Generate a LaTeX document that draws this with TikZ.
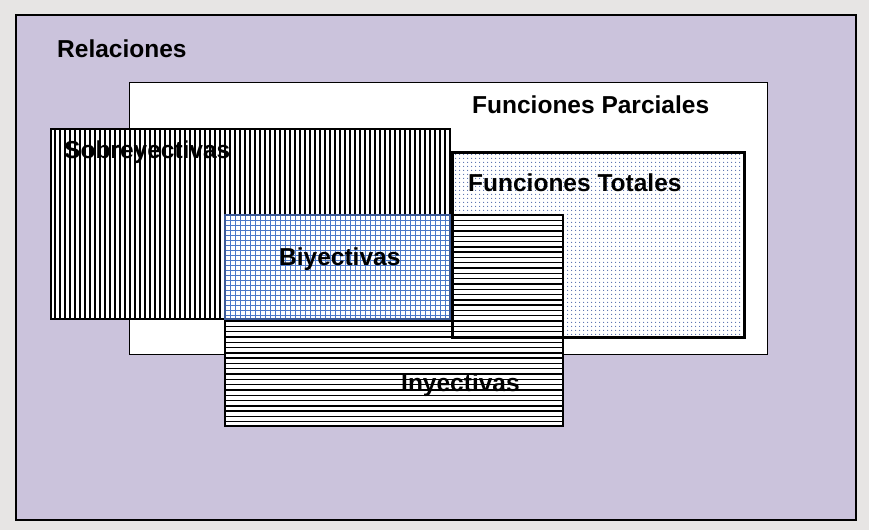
\documentclass[tikz,border=0pt]{standalone}
\usepackage{fontspec}
\setmainfont{Liberation Sans}
\usepackage{tikz}
\usepackage{xcolor}
\usetikzlibrary{patterns.meta}

\definecolor{bggray}{RGB}{231,229,228}
\definecolor{relpurple}{RGB}{203,195,220}
\definecolor{dotblue}{RGB}{80,105,170}
\definecolor{gridblue}{RGB}{75,120,200}
\definecolor{biyborder}{RGB}{60,90,150}

\tikzset{
  setlabel/.style={anchor=west,inner sep=0pt,font=\fontsize{24.5}{28}\selectfont\bfseries}
}

\begin{document}
\begin{tikzpicture}[x=1pt,y=-1pt]
  \useasboundingbox (0,0) rectangle (869,530);
  \fill[bggray] (0,0) rectangle (869,530);
  % relaciones
  \draw[line width=2.5pt,fill=relpurple] (16,15) rectangle (856,520);
  % funciones parciales
  \draw[line width=1pt,fill=white] (129,82) rectangle (767,354);
  % funciones totales (dots)
  \fill[white] (452,152) rectangle (744,337);
  \fill[pattern={Dots[radius=0.75pt,distance=4pt]},pattern color=dotblue] (452,152) rectangle (744,337);
  % sobreyectivas (vertical lines)
  \fill[white] (51,129) rectangle (450,319);
  \foreach \x in {55,60,...,449}
    \draw[line width=1.25pt] (\x,129) -- (\x,319);
  \draw[line width=1.5pt] (51,129) rectangle (450,319);
  % inyectivas (horizontal lines)
  \fill[white] (225,215) rectangle (563,426);
  \foreach \y in {220.3,225.6,...,423}
    \draw[line width=1.4pt] (225,\y) -- (563,\y);
  \draw[line width=1.5pt] (225,215) rectangle (563,426);
  % biyectivas (blue grid)
  \fill[white] (225,215) rectangle (450,319);
  \foreach \x in {230,235,...,449}
    \draw[line width=0.9pt,gridblue] (\x,215) -- (\x,319);
  \foreach \y in {220,225,...,318}
    \draw[line width=0.9pt,gridblue] (225,\y) -- (450,\y);
  \draw[line width=1.8pt,biyborder] (225,215) rectangle (450,319);
  % border of funciones totales on top
  \draw[line width=3pt] (452,152) rectangle (744,337);
  \node[setlabel] (rel) at (57,49) {Relaciones};
  \node[setlabel] (parc) at (472,105) {Funciones Parciales};
  \node[setlabel] (sobre) at (64,152) {Sobreyectivas};
  \node[setlabel] (tot) at (468,183) {Funciones Totales};
  \node[setlabel] (biy) at (279,259) {Biyectivas};
  \node[setlabel] (iny) at (401,385) {Inyectivas};
\end{tikzpicture}
\end{document}
